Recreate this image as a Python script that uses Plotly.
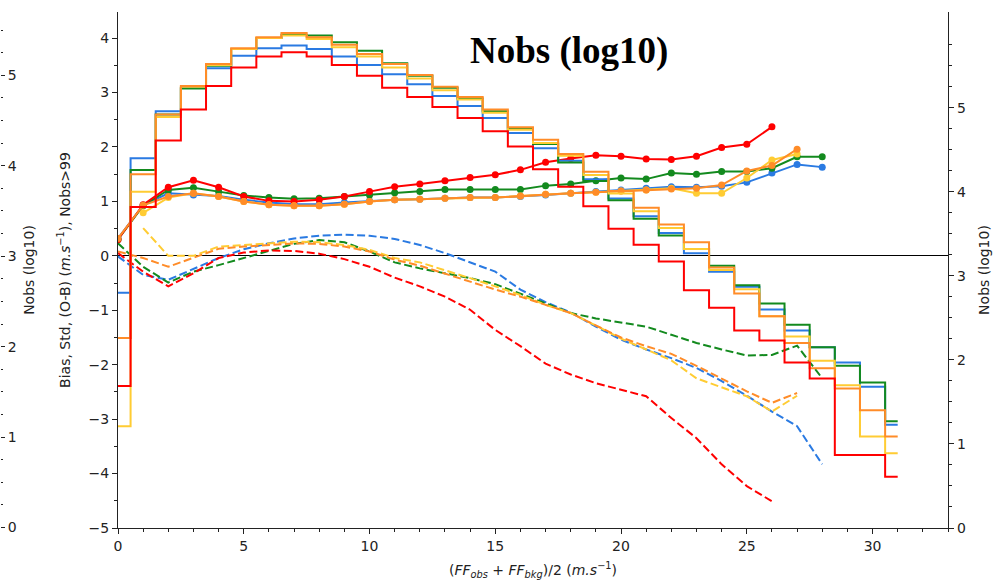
import plotly.graph_objects as go

# ---------------- data ----------------
hist_x = list(range(32))
hist_blue = [2.80, 4.40, 4.96, 5.24, 5.47, 5.62, 5.71, 5.74, 5.70, 5.61, 5.51, 5.40, 5.28, 5.14, 5.02, 4.88,
             4.70, 4.52, 4.37, 4.15, 3.92, 3.71, 3.51, 3.27, 3.05, 2.87, 2.60, 2.35, 2.15, 1.97, 1.68, 1.23]
hist_green = [2.26, 4.26, 4.92, 5.23, 5.50, 5.70, 5.83, 5.87, 5.86, 5.78, 5.68, 5.53, 5.38, 5.24, 5.11, 4.96,
              4.75, 4.57, 4.35, 4.13, 3.90, 3.68, 3.48, 3.32, 3.12, 2.89, 2.67, 2.42, 2.15, 1.93, 1.73, 1.27]
hist_yellow = [1.21, 4.00, 4.89, 5.25, 5.51, 5.70, 5.83, 5.86, 5.82, 5.72, 5.61, 5.48, 5.35, 5.21, 5.10, 4.94,
               4.74, 4.58, 4.43, 4.20, 3.98, 3.77, 3.57, 3.32, 3.07, 2.84, 2.52, 2.28, 1.99, 1.70, 1.09, 0.89]
hist_orange = [2.26, 4.21, 4.92, 5.26, 5.52, 5.71, 5.84, 5.89, 5.84, 5.75, 5.64, 5.52, 5.39, 5.25, 5.13, 4.98,
               4.77, 4.62, 4.45, 4.24, 4.01, 3.81, 3.61, 3.40, 3.10, 2.79, 2.52, 2.20, 1.90, 1.66, 1.40, 1.09]
hist_red = [1.69, 3.82, 4.61, 4.98, 5.26, 5.48, 5.61, 5.66, 5.61, 5.51, 5.38, 5.24, 5.13, 5.01, 4.88, 4.72,
            4.54, 4.27, 4.06, 3.83, 3.56, 3.37, 3.17, 2.83, 2.62, 2.35, 2.23, 1.97, 1.78, 0.87, 0.87, 0.61]

# Std (solid with markers)
std_blue_x = list(range(0, 29))
std_blue = [0.32, 0.93, 1.15, 1.12, 1.10, 1.03, 0.98, 0.95, 0.95, 0.98, 1.01, 1.03, 1.04, 1.06, 1.07, 1.07,
            1.09, 1.12, 1.15, 1.18, 1.21, 1.24, 1.27, 1.26, 1.28, 1.35, 1.52, 1.68, 1.63]
std_green_x = list(range(0, 29))
std_green = [0.30, 0.92, 1.21, 1.25, 1.18, 1.11, 1.07, 1.05, 1.06, 1.09, 1.12, 1.16, 1.18, 1.22, 1.22, 1.22,
             1.22, 1.29, 1.32, 1.38, 1.43, 1.41, 1.52, 1.50, 1.55, 1.55, 1.61, 1.82, 1.82]
std_yellow_x = list(range(1, 28))
std_yellow = [0.79, 1.07, 1.15, 1.09, 1.00, 0.94, 0.92, 0.92, 0.95, 1.00, 1.03, 1.04, 1.06, 1.07, 1.07,
              1.10, 1.13, 1.15, 1.17, 1.19, 1.21, 1.24, 1.15, 1.15, 1.43, 1.76, 1.87]
std_orange_x = list(range(0, 28))
std_orange = [0.32, 0.93, 1.09, 1.15, 1.09, 1.00, 0.94, 0.92, 0.92, 0.95, 1.00, 1.03, 1.04, 1.06, 1.07, 1.07,
              1.10, 1.13, 1.15, 1.17, 1.19, 1.21, 1.23, 1.24, 1.30, 1.56, 1.66, 1.96]
std_red_x = list(range(0, 27))
std_red = [0.30, 0.94, 1.26, 1.39, 1.26, 1.09, 1.01, 1.00, 1.03, 1.09, 1.18, 1.27, 1.32, 1.38, 1.44, 1.49,
           1.58, 1.72, 1.79, 1.85, 1.83, 1.78, 1.77, 1.83, 1.99, 2.05, 2.37]

# Bias (dashed)
bias_blue_x = list(range(0, 29))
bias_blue = [-0.01, -0.35, -0.44, -0.24, -0.04, 0.12, 0.23, 0.32, 0.37, 0.39, 0.37, 0.31, 0.20, 0.05, -0.12,
             -0.29, -0.62, -0.85, -1.04, -1.30, -1.54, -1.72, -1.88, -2.06, -2.30, -2.57, -2.86, -3.13, -3.83]
bias_green_x = list(range(0, 29))
bias_green = [0.23, -0.20, -0.49, -0.29, -0.17, -0.04, 0.10, 0.22, 0.29, 0.25, 0.08, -0.12, -0.23, -0.32,
              -0.41, -0.52, -0.70, -0.88, -1.05, -1.15, -1.23, -1.30, -1.45, -1.60, -1.72, -1.83, -1.82,
              -1.65, -2.25]
bias_yellow_x = list(range(1, 28))
bias_yellow = [0.51, 0.00, 0.00, 0.17, 0.20, 0.23, 0.26, 0.25, 0.20, 0.11, -0.04, -0.12, -0.26, -0.41, -0.56,
               -0.72, -0.90, -1.05, -1.28, -1.52, -1.72, -1.92, -2.25, -2.42, -2.58, -2.86, -2.57]
bias_orange_x = list(range(0, 28))
bias_orange = [0.08, -0.04, -0.20, -0.04, 0.13, 0.17, 0.20, 0.23, 0.22, 0.17, 0.08, -0.07, -0.18, -0.33,
               -0.47, -0.62, -0.75, -0.90, -1.05, -1.28, -1.50, -1.66, -1.80, -2.02, -2.25, -2.49, -2.70, -2.52]
bias_red_x = list(range(0, 27))
bias_red = [0.05, -0.29, -0.56, -0.32, -0.04, 0.06, 0.10, 0.09, 0.04, -0.06, -0.20, -0.40, -0.56, -0.75,
            -0.99, -1.36, -1.66, -1.98, -2.18, -2.34, -2.46, -2.58, -2.98, -3.35, -3.83, -4.23, -4.51]

# ---------------- style ----------------
C_BLUE = "#2a7ae2"
C_GREEN = "#138a1e"
C_YELLOW = "#ffcc33"
C_ORANGE = "#ff8c28"
C_RED = "#ff0000"
FONT = "DejaVu Sans"
TXT = "#222222"
FS = 14

fig = go.Figure()

hist_series = [("blue", hist_blue, C_BLUE), ("green", hist_green, C_GREEN), ("yellow", hist_yellow, C_YELLOW),
               ("orange", hist_orange, C_ORANGE), ("red", hist_red, C_RED)]
for name, vals, col in hist_series:
    fig.add_trace(go.Scatter(x=hist_x, y=vals, mode="lines", line=dict(color=col, width=2, shape="hvh"),
                             yaxis="y2", name=name + " Nobs", showlegend=False))

bias_series = [(bias_blue_x, bias_blue, C_BLUE), (bias_green_x, bias_green, C_GREEN),
               (bias_yellow_x, bias_yellow, C_YELLOW), (bias_orange_x, bias_orange, C_ORANGE),
               (bias_red_x, bias_red, C_RED)]
for xs, vals, col in bias_series:
    fig.add_trace(go.Scatter(x=xs, y=vals, mode="lines", line=dict(color=col, width=2, dash="8px,3.5px"),
                             yaxis="y", showlegend=False))

std_series = [(std_blue_x, std_blue, C_BLUE), (std_green_x, std_green, C_GREEN),
              (std_red_x, std_red, C_RED), (std_yellow_x, std_yellow, C_YELLOW),
              (std_orange_x, std_orange, C_ORANGE)]
for xs, vals, col in std_series:
    fig.add_trace(go.Scatter(x=xs, y=vals, mode="lines+markers", line=dict(color=col, width=2),
                             marker=dict(color=col, size=7), yaxis="y", showlegend=False))

# empty trace so the outer axis is drawn
fig.add_trace(go.Scatter(x=[None], y=[None], yaxis="y3", showlegend=False))

W, H = 1000, 584
ML, MR, MT, MB = 0, 52, 12, 56
pw = W - ML - MR
x0 = 118 / pw

axis_common = dict(showgrid=False, zeroline=False, color=TXT, linecolor=TXT, tickcolor=TXT,
                   tickfont=dict(family=FONT, size=FS, color=TXT), automargin=False)
title_font = dict(family=FONT, size=FS, color=TXT)

fig.update_layout(
    width=W, height=H,
    margin=dict(l=ML, r=MR, t=MT, b=MB),
    plot_bgcolor="white", paper_bgcolor="white",
    font=dict(family=FONT, size=FS, color=TXT),
    showlegend=False,
    xaxis=dict(axis_common, domain=[x0, 1], range=[0, 33], tickmode="linear", tick0=0, dtick=5,
               showline=True, linewidth=1.3, ticks="outside", ticklen=5, tickwidth=1.2,
               minor=dict(ticks="outside", dtick=1, ticklen=3, tickcolor=TXT, tickwidth=1),
               title=dict(text="(<i>FF</i><sub><i>obs</i></sub> + <i>FF</i><sub><i>bkg</i></sub>)/2 (<i>m.s</i><sup>−1</sup>)",
                          font=title_font, standoff=12)),
    yaxis=dict(axis_common, range=[-5, 4.48], tickmode="linear", tick0=0, dtick=1,
               showline=True, linewidth=1.3, ticks="outside", ticklen=5, tickwidth=1.2,
               zeroline=True, zerolinecolor="black", zerolinewidth=1.3,
               minor=dict(ticks="outside", dtick=0.5, ticklen=3, tickcolor=TXT, tickwidth=1),
               title=dict(text="Bias, Std, (O-B) (<i>m.s</i><sup>−1</sup>), Nobs>99",
                          font=title_font, standoff=14)),
    yaxis2=dict(axis_common, range=[0, 6.14], overlaying="y", side="right", anchor="x",
                tickmode="array", tickvals=[0, 1, 2, 3, 4, 5],
                showline=True, linewidth=1.3, ticks="outside", ticklen=5, tickwidth=1.2,
                minor=dict(ticks="outside", tickmode="array",
                           tickvals=[q / 4 for q in range(0, 24) if q % 4 != 0],
                           ticklen=3, tickcolor=TXT, tickwidth=1),
                title=dict(text="Nobs (log10)", font=title_font, standoff=14)),
    yaxis3=dict(axis_common, range=[-0.005, 5.70], overlaying="y", side="right", anchor="free", position=0,
                tickmode="array", tickvals=[0, 1, 2, 3, 4, 5],
                showline=False, ticks="outside", ticklen=4, tickwidth=1.2,
                minor=dict(ticks="outside", tickmode="array",
                           tickvals=[q / 4 for q in range(0, 23) if q % 4 != 0],
                           ticklen=2, tickcolor=TXT, tickwidth=1),
                title=dict(text="Nobs (log10)", font=title_font, standoff=8)),
    annotations=[dict(text="<b>Nobs (log10)</b>", xref="paper", yref="paper", x=569 / pw, y=(528 - 50.5) / 516,
                      xanchor="center", yanchor="middle", showarrow=False,
                      font=dict(family="Liberation Serif", size=37, color="black"))],
)

fig.write_html("out.html", post_script="document.body.style.margin='0px';",
               config={"displayModeBar": False})
